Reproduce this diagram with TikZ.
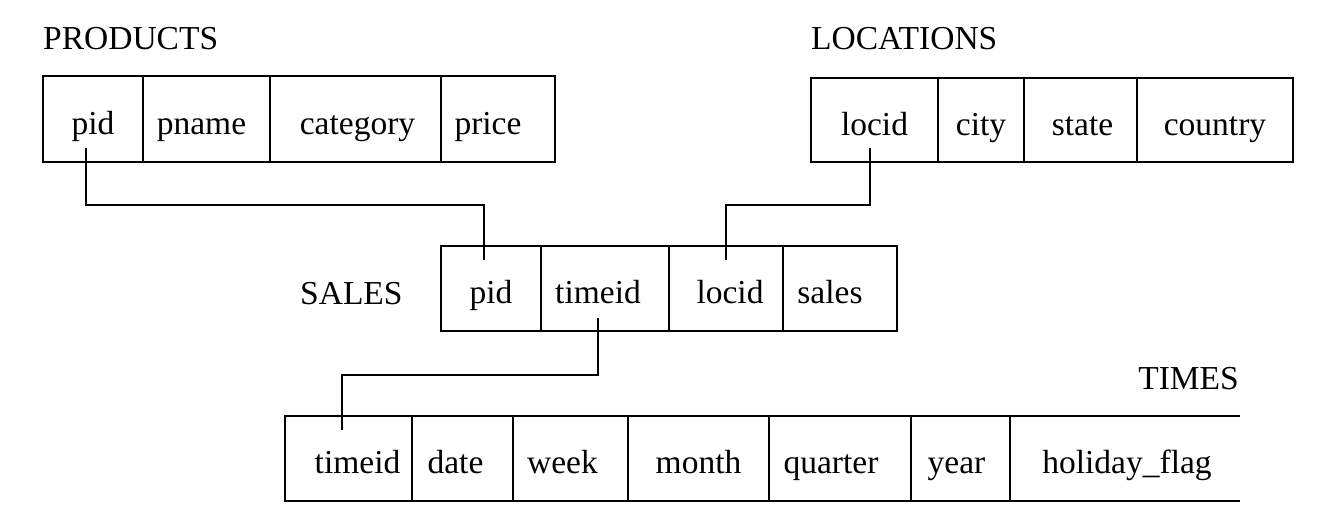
\documentclass[tikz,border=0pt]{standalone}
\usepackage{fontspec}
\setmainfont{Liberation Serif}
\begin{document}
\begin{tikzpicture}[x=1pt,y=-1pt,
  every node/.style={font=\fontsize{33.5}{40}\selectfont},
  cell/.style={draw, line width=2.6pt, inner sep=0pt, outer sep=0pt, text height=30pt, text depth=0pt},
  tshift/.style={execute at begin node={\hspace*{#1}}},
  prow/.style={cell, minimum height=86pt},
  lrow/.style={cell, minimum height=84pt},
  srow/.style={cell, minimum height=85pt},
  trow/.style={cell, minimum height=85pt},
  conn/.style={line width=2.6pt},
  title/.style={inner sep=0pt}]
\useasboundingbox (0,0) rectangle (1320,522);

% PRODUCTS
\node[title, anchor=base west] (prodlbl) at (43,49) {PRODUCTS};
\node[prow, minimum width=100pt] (p1) at (93,119) {pid};
\node[prow, minimum width=127pt, tshift=-10pt] (p2) at (206.5,119) {pname};
\node[prow, minimum width=171pt, tshift=4pt] (p3) at (355.5,119) {category};
\node[prow, minimum width=114pt, tshift=-20pt] (p4) at (498,119) {price};

% LOCATIONS
\node[title, anchor=base west] (loclbl) at (811,49) {LOCATIONS};
\node[lrow, minimum width=127pt] (l1) at (874.5,120) {locid};
\node[lrow, minimum width=86pt] (l2) at (981,120) {city};
\node[lrow, minimum width=113pt, tshift=4pt] (l3) at (1080.5,120) {state};
\node[lrow, minimum width=156pt] (l4) at (1215,120) {country};

% SALES
\node[title, anchor=base west] (saleslbl) at (300,304) {SALES};
\node[srow, minimum width=100pt] (s1) at (491,288.5) {pid};
\node[srow, minimum width=128pt, tshift=-14pt] (s2) at (605,288.5) {timeid};
\node[srow, minimum width=114pt, tshift=8pt] (s3) at (726,288.5) {locid};
\node[srow, minimum width=114pt, tshift=-20pt] (s4) at (840,288.5) {sales};

% TIMES
\node[title, anchor=base east] (timeslbl) at (1239,389) {TIMES};
\node[trow, minimum width=127pt, tshift=18pt] (t1) at (348.5,458.5) {timeid};
\node[trow, minimum width=101pt, tshift=-14pt] (t2) at (462.5,458.5) {date};
\node[trow, minimum width=115pt, tshift=-16pt] (t3) at (570.5,458.5) {week};
\node[trow, minimum width=141pt] (t4) at (698.5,458.5) {month};
\node[trow, minimum width=142pt, tshift=-18pt] (t5) at (840,458.5) {quarter};
\node[trow, minimum width=99pt, tshift=-8pt] (t6) at (960.5,458.5) {year};
\node[cell, draw=none, minimum height=85pt, minimum width=230pt, tshift=4pt] (t7) at (1125,458.5) {holiday\_flag};
\draw[conn] (t7.north west) -- (t7.north east);
\draw[conn] (t7.south west) -- (t7.south east);

% connectors
\draw[conn] ([xshift=-7pt,yshift=14pt]p1.south) -- ++(0,57) -| ([xshift=-7pt,yshift=-14pt]s1.north);
\draw[conn] ([xshift=-4.5pt,yshift=14pt]l1.south) -- ++(0,57) -| ([yshift=-14pt]s3.north);
\draw[conn] ([xshift=-7pt,yshift=13pt]s2.south) -- ++(0,57) -| ([xshift=-6.5pt,yshift=-14pt]t1.north);
\end{tikzpicture}
\end{document}
